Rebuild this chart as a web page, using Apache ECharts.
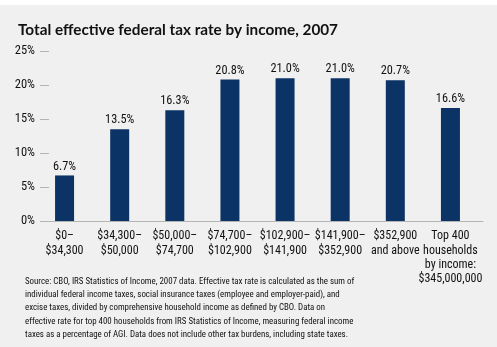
<!DOCTYPE html>
<html><head><meta charset="utf-8">
<script src="https://cdn.jsdelivr.net/npm/echarts@6/dist/echarts.min.js"></script>
<style>html,body{margin:0;padding:0;background:#fff;}#c{position:absolute;left:0;top:0;width:497px;height:347px;}</style>
</head><body><div id="c"></div>
<script>
const titleText = 'Total effective federal tax rate by income, 2007';
const categories = ['$0–\n$34,300', '$34,300–\n$50,000', '$50,000–\n$74,700', '$74,700–\n$102,900', '$102,900–\n$141,900', '$141,900–\n$352,900', '$352,900\nand above', 'Top 400\nhouseholds\nby income:\n$345,000,000'];
const rates = [6.7, 13.5, 16.3, 20.8, 21.0, 21.0, 20.7, 16.6];
const yTicks = [0, 5, 10, 15, 20, 25];
const footnote = [
  'Source: CBO, IRS Statistics of Income, 2007 data. Effective tax rate is calculated as the sum of',
  'individual federal income taxes, social insurance taxes (employee and employer-paid), and',
  'excise taxes, divided by comprehensive household income as defined by CBO. Data on',
  'effective rate for top 400 households from IRS Statistics of Income, measuring federal income',
  'taxes as a percentage of AGI. Data does not include other tax burdens, including state taxes.'
];
const FONT = 'Roboto Condensed';
const chart = echarts.init(document.getElementById('c'), null, {renderer: 'canvas'});
chart.setOption({
  backgroundColor: '#f0f0f0',
  animation: false,
  textStyle: {fontFamily: FONT},
  title: [
    {text: titleText, left: 13, top: 14, textStyle: {fontFamily: 'Lato', fontWeight: 'bold', fontSize: 15.3, lineHeight: 22, color: '#111'}},
    {text: footnote.map(s => '{f|' + s + '}').join('\n'), left: 20, top: 270,
     textStyle: {rich: {f: {fontFamily: FONT, fontWeight: 'normal', fontSize: 8.9, lineHeight: 13.3, color: '#111'}}}}
  ],
  graphic: [{type: 'rect', shape: {x: 0, y: 0, width: 497, height: 5}, style: {fill: '#ffffff'}, z: 100}],
  grid: [
    {left: 37, right: 19, top: 51, bottom: 126},
    {left: 45, right: 14, top: 51, bottom: 126}
  ],
  xAxis: [
    {type: 'category', gridIndex: 0, data: categories, axisLine: {show: false}, axisTick: {show: false},
     axisLabel: {interval: 0, margin: 8, color: '#111',
       formatter: v => v.split('\n').map(s => '{c|' + s + '}').join('\n'),
       rich: {c: {fontFamily: FONT, fontSize: 12, lineHeight: 14.4, color: '#111'}}}},
    {type: 'category', gridIndex: 1, data: categories, axisLine: {show: true, lineStyle: {color: '#b4b4b4', width: 1}}, axisTick: {show: false}, axisLabel: {show: false}}
  ],
  yAxis: [
    {type: 'value', gridIndex: 0, min: yTicks[0], max: yTicks[yTicks.length - 1], interval: 5, offset: -3,
     axisLine: {show: false}, axisTick: {show: true, inside: true, length: 9, lineStyle: {color: '#b4b4b4'}},
     splitLine: {show: false},
     axisLabel: {margin: 5, padding: [3, 0, 0, 0], fontFamily: FONT, fontSize: 12.5, color: '#111', formatter: v => v + '%'}},
    {type: 'value', gridIndex: 1, min: 0, max: 25, show: false}
  ],
  series: [{
    type: 'bar', xAxisIndex: 0, yAxisIndex: 0, data: rates, barWidth: 19,
    itemStyle: {color: '#0b3366'},
    label: {show: true, position: 'top', distance: 3, fontFamily: FONT, fontSize: 12.3, color: '#111', formatter: p => p.value.toFixed(1) + '%'}
  }]
});
</script></body></html>
